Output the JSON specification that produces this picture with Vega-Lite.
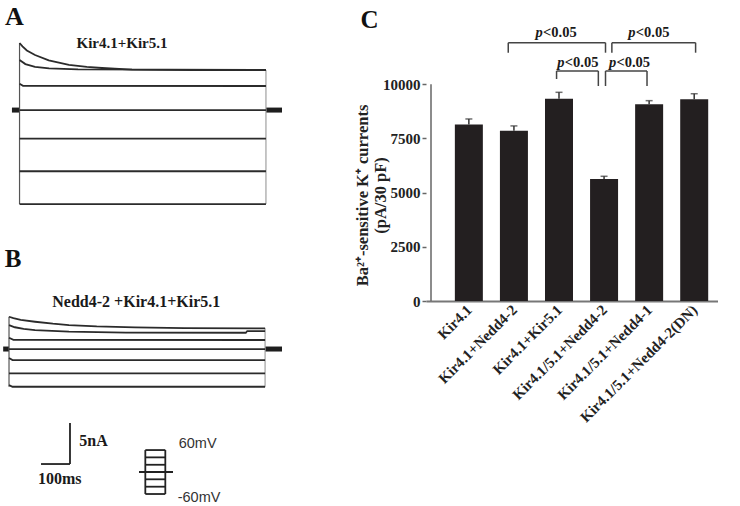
{
  "$schema": "https://vega.github.io/schema/vega-lite/v6.json",
  "padding": 0,
  "background": "white",
  "bounds": "flush",
  "spacing": 424,
  "config": {"view": {"stroke": null}, "font": "Liberation Serif"},
  "datasets": {
    "tracesA": [
      {"tr": 1, "t": 0, "i": 8.17}, {"tr": 1, "t": 10, "i": 7.75}, {"tr": 1, "t": 25, "i": 7.25}, {"tr": 1, "t": 53, "i": 6.7}, {"tr": 1, "t": 100, "i": 6.05}, {"tr": 1, "t": 169, "i": 5.49}, {"tr": 1, "t": 230, "i": 5.25}, {"tr": 1, "t": 282, "i": 5.12}, {"tr": 1, "t": 385, "i": 4.92}, {"tr": 1, "t": 600, "i": 4.88}, {"tr": 1, "t": 843, "i": 4.88},
      {"tr": 2, "t": 0, "i": 6.1}, {"tr": 2, "t": 20, "i": 5.6}, {"tr": 2, "t": 53, "i": 5.27}, {"tr": 2, "t": 101, "i": 5.07}, {"tr": 2, "t": 200, "i": 4.95}, {"tr": 2, "t": 843, "i": 4.88},
      {"tr": 3, "t": 0, "i": 3.2}, {"tr": 3, "t": 12, "i": 2.95}, {"tr": 3, "t": 843, "i": 2.93},
      {"tr": 4, "t": 0, "i": 0}, {"tr": 4, "t": 843, "i": 0},
      {"tr": 5, "t": 0, "i": -3.48}, {"tr": 5, "t": 843, "i": -3.48},
      {"tr": 6, "t": 0, "i": -7.45}, {"tr": 6, "t": 843, "i": -7.45},
      {"tr": 7, "t": 0, "i": -11.44}, {"tr": 7, "t": 843, "i": -11.44}
    ],
    "holdA": [{"t": -26, "t2": 0, "i": 0}, {"t": 843, "t2": 898, "i": 0}],
    "vertA": [{"t": 0, "i": -11.44, "i2": 8.17, "kind": "on"}, {"t": 843, "i": -11.44, "i2": 4.88, "kind": "off"}],
    "textA": [
      {"t": -49.7, "i": 10.36, "txt": "A", "style": "letter"},
      {"t": 350.5, "i": 8.17, "txt": "Kir4.1+Kir5.1", "style": "title"}
    ],
    "tracesB": [
      {"tr": 1, "t": 0, "i": 3.93}, {"tr": 1, "t": 15, "i": 3.75}, {"tr": 1, "t": 40, "i": 3.55}, {"tr": 1, "t": 89, "i": 3.32}, {"tr": 1, "t": 150, "i": 3.08}, {"tr": 1, "t": 205, "i": 2.92}, {"tr": 1, "t": 300, "i": 2.75}, {"tr": 1, "t": 431, "i": 2.64}, {"tr": 1, "t": 600, "i": 2.55}, {"tr": 1, "t": 876, "i": 2.52},
      {"tr": 2, "t": 0, "i": 2.92}, {"tr": 2, "t": 20, "i": 2.65}, {"tr": 2, "t": 50, "i": 2.45}, {"tr": 2, "t": 89, "i": 2.31}, {"tr": 2, "t": 205, "i": 2.11}, {"tr": 2, "t": 400, "i": 2.0}, {"tr": 2, "t": 810, "i": 1.98}, {"tr": 2, "t": 815, "i": 2.19}, {"tr": 2, "t": 876, "i": 2.19},
      {"tr": 3, "t": 0, "i": 1.38}, {"tr": 3, "t": 15, "i": 1.12}, {"tr": 3, "t": 876, "i": 1.1},
      {"tr": 4, "t": 0, "i": 0}, {"tr": 4, "t": 876, "i": 0},
      {"tr": 5, "t": 0, "i": -1.1}, {"tr": 5, "t": 12, "i": -1.34}, {"tr": 5, "t": 876, "i": -1.34},
      {"tr": 6, "t": 0, "i": -2.96}, {"tr": 6, "t": 876, "i": -2.96},
      {"tr": 7, "t": 0, "i": -4.4}, {"tr": 7, "t": 12, "i": -4.59}, {"tr": 7, "t": 876, "i": -4.59}
    ],
    "holdB": [{"t": -20, "t2": 0, "i": 0}, {"t": 876, "t2": 934, "i": 0}],
    "vertB": [{"t": 0, "i": -4.59, "i2": 3.93, "kind": "on"}, {"t": 876, "i": -4.59, "i2": 2.52, "kind": "off"}],
    "rulesB": [
      {"t": 109.5, "t2": 208.6, "i": -14.0, "i2": -14.0},
      {"t": 208.6, "t2": 208.6, "i": -9.01, "i2": -14.0},
      {"t": 466.3, "t2": 534.7, "i": -12.3, "i2": -12.3},
      {"t": 466.3, "t2": 534.7, "i": -13.19, "i2": -13.19},
      {"t": 466.3, "t2": 534.7, "i": -14.09, "i2": -14.09},
      {"t": 444.7, "t2": 561, "i": -14.97, "i2": -14.97},
      {"t": 466.3, "t2": 534.7, "i": -15.86, "i2": -15.86},
      {"t": 466.3, "t2": 534.7, "i": -16.76, "i2": -16.76},
      {"t": 466.3, "t2": 534.7, "i": -17.65, "i2": -17.65},
      {"t": 466.3, "t2": 466.3, "i": -12.3, "i2": -17.65},
      {"t": 534.7, "t2": 534.7, "i": -12.3, "i2": -17.65}
    ],
    "textB": [
      {"t": -14.8, "i": 10.02, "txt": "B", "style": "letter"},
      {"t": 435.4, "i": 5.69, "txt": "Nedd4-2 +Kir4.1+Kir5.1", "style": "title"},
      {"t": 240.4, "i": -11.16, "txt": "5nA", "style": "scale"},
      {"t": 99.1, "i": -15.86, "txt": "100ms", "style": "scale"},
      {"t": 580.5, "i": -11.57, "txt": "60mV", "style": "mv"},
      {"t": 577, "i": -18.18, "txt": "-60mV", "style": "mv"}
    ],
    "bars": [
      {"x": 1, "y": 8150, "err": 8400},
      {"x": 2, "y": 7860, "err": 8080},
      {"x": 3, "y": 9335, "err": 9630},
      {"x": 4, "y": 5630, "err": 5755},
      {"x": 5, "y": 9075, "err": 9245},
      {"x": 6, "y": 9310, "err": 9565}
    ],
    "caps": [
      {"x": 1, "y": 8400}, {"x": 2, "y": 8080}, {"x": 3, "y": 9630},
      {"x": 4, "y": 5755}, {"x": 5, "y": 9245}, {"x": 6, "y": 9565}
    ],
    "brackets": [
      {"x": 1.874, "x2": 4.032, "y": 11920, "y2": 11920},
      {"x": 1.874, "x2": 1.874, "y": 11920, "y2": 11458},
      {"x": 4.032, "x2": 4.032, "y": 11920, "y2": 11458},
      {"x": 4.173, "x2": 6.031, "y": 11920, "y2": 11920},
      {"x": 4.173, "x2": 4.173, "y": 11920, "y2": 11458},
      {"x": 6.031, "x2": 6.031, "y": 11920, "y2": 11458},
      {"x": 2.946, "x2": 3.873, "y": 10614, "y2": 10614},
      {"x": 2.946, "x2": 2.946, "y": 10614, "y2": 10245},
      {"x": 3.873, "x2": 3.873, "y": 10614, "y2": 9922},
      {"x": 4.032, "x2": 4.953, "y": 10614, "y2": 10614},
      {"x": 4.032, "x2": 4.032, "y": 10614, "y2": 9922},
      {"x": 4.953, "x2": 4.953, "y": 10614, "y2": 9922}
    ],
    "ptext": [
      {"x": 2.481, "y": 12367, "p": "p", "rest": "<0.05"},
      {"x": 4.538, "y": 12367, "p": "p", "rest": "<0.05"},
      {"x": 2.961, "y": 10997, "p": "p", "rest": "<0.05"},
      {"x": 4.109, "y": 10997, "p": "p", "rest": "<0.05"}
    ],
    "ctext": [{"x": -1.404, "y": 12598, "txt": "C"}],
    "yline": [{"x": 0.16, "y": 0, "y2": 10000}]
  },
  "hconcat": [
    {
      "bounds": "flush",
      "spacing": 0,
      "resolve": {"scale": {"x": "independent", "y": "independent"}},
      "vconcat": [
        {
          "width": 285,
          "height": 230,
          "encoding": {
            "x": {"field": "t", "type": "quantitative", "scale": {"domain": [-60, 915], "nice": false, "zero": false}, "axis": null},
            "y": {"field": "i", "type": "quantitative", "scale": {"domain": [-14.6, 13.4], "nice": false, "zero": false}, "axis": null}
          },
          "layer": [
            {"data": {"name": "holdA"}, "mark": {"type": "rule", "color": "#1e1e1e", "strokeWidth": 5}, "encoding": {"x2": {"field": "t2"}}},
            {"data": {"name": "vertA"}, "mark": {"type": "rule", "strokeWidth": 1.2}, "encoding": {"y2": {"field": "i2"}, "color": {"field": "kind", "type": "nominal", "scale": {"domain": ["on", "off"], "range": ["#555555", "#a0a0a0"]}, "legend": null}}},
            {"data": {"name": "tracesA"}, "mark": {"type": "line", "color": "#2b2b2b", "strokeWidth": 1.8}, "encoding": {"detail": {"field": "tr", "type": "nominal"}}},
            {"data": {"name": "textA"}, "transform": [{"filter": "datum.style === 'letter'"}], "mark": {"type": "text", "font": "Liberation Serif", "fontWeight": "bold", "fontSize": 26, "align": "left", "baseline": "alphabetic", "color": "#111111"}, "encoding": {"text": {"field": "txt"}}},
            {"data": {"name": "textA"}, "transform": [{"filter": "datum.style === 'title'"}], "mark": {"type": "text", "font": "Liberation Serif", "fontWeight": "bold", "fontSize": 15, "align": "center", "baseline": "middle", "color": "#1a1a1a"}, "encoding": {"text": {"field": "txt"}}}
          ]
        },
        {
          "width": 285,
          "height": 276,
          "encoding": {
            "x": {"field": "t", "type": "quantitative", "scale": {"domain": [-24, 951], "nice": false, "zero": false}, "axis": null},
            "y": {"field": "i", "type": "quantitative", "scale": {"domain": [-19.11, 14.49], "nice": false, "zero": false}, "axis": null}
          },
          "layer": [
            {"data": {"name": "holdB"}, "mark": {"type": "rule", "color": "#1e1e1e", "strokeWidth": 5}, "encoding": {"x2": {"field": "t2"}}},
            {"data": {"name": "vertB"}, "mark": {"type": "rule", "strokeWidth": 1.2}, "encoding": {"y2": {"field": "i2"}, "color": {"field": "kind", "type": "nominal", "scale": {"domain": ["on", "off"], "range": ["#555555", "#a0a0a0"]}, "legend": null}}},
            {"data": {"name": "tracesB"}, "mark": {"type": "line", "color": "#2b2b2b", "strokeWidth": 1.8}, "encoding": {"detail": {"field": "tr", "type": "nominal"}}},
            {"data": {"name": "rulesB"}, "mark": {"type": "rule", "color": "#222222", "strokeWidth": 1.8}, "encoding": {"x2": {"field": "t2"}, "y2": {"field": "i2"}}},
            {"data": {"name": "textB"}, "transform": [{"filter": "datum.style === 'letter'"}], "mark": {"type": "text", "font": "Liberation Serif", "fontWeight": "bold", "fontSize": 25, "align": "left", "baseline": "alphabetic", "color": "#111111"}, "encoding": {"text": {"field": "txt"}}},
            {"data": {"name": "textB"}, "transform": [{"filter": "datum.style === 'title'"}], "mark": {"type": "text", "font": "Liberation Serif", "fontWeight": "bold", "fontSize": 16, "align": "center", "baseline": "middle", "color": "#1a1a1a"}, "encoding": {"text": {"field": "txt"}}},
            {"data": {"name": "textB"}, "transform": [{"filter": "datum.style === 'scale'"}], "mark": {"type": "text", "font": "Liberation Serif", "fontWeight": "bold", "fontSize": 16, "align": "left", "baseline": "middle", "color": "#1a1a1a"}, "encoding": {"text": {"field": "txt"}}},
            {"data": {"name": "textB"}, "transform": [{"filter": "datum.style === 'mv'"}], "mark": {"type": "text", "font": "Liberation Sans", "fontSize": 14.5, "align": "left", "baseline": "middle", "color": "#333333"}, "encoding": {"text": {"field": "txt"}}}
          ]
        }
      ]
    },
    {
      "width": 292,
      "height": 301,
      "encoding": {
        "x": {
          "field": "x", "type": "quantitative",
          "scale": {"domain": [0.16, 6.417], "nice": false, "zero": false},
          "axis": {
            "values": [1, 2, 3, 4, 5, 6],
            "labelExpr": "['', 'Kir4.1', 'Kir4.1+Nedd4-2', 'Kir4.1+Kir5.1', 'Kir4.1/5.1+Nedd4-2', 'Kir4.1/5.1+Nedd4-1', 'Kir4.1/5.1+Nedd4-2(DN)'][datum.value]",
            "labelAngle": -45, "labelAlign": "right", "labelBaseline": "middle",
            "labelFont": "Liberation Serif", "labelFontWeight": "bold", "labelFontSize": 15, "labelColor": "#222222",
            "labelPadding": 6, "ticks": false, "domainColor": "#777777", "domainWidth": 2, "grid": false, "title": null,
            "labelOverlap": false, "labelFlush": false, "labelBound": false
          }
        },
        "y": {
          "field": "y", "type": "quantitative",
          "scale": {"domain": [0, 13890], "nice": false, "zero": true},
          "axis": {
            "values": [0, 2500, 5000, 7500, 10000], "format": "d",
            "domain": false, "grid": false, "ticks": true, "tickSize": 4, "tickColor": "#666666", "tickWidth": 1.5,
            "labelFont": "Liberation Serif", "labelFontWeight": "bold", "labelFontSize": 15, "labelColor": "#222222", "labelPadding": 2, "labelFlush": false,
            "title": ["Ba²⁺-sensitive K⁺ currents", "(pA/30 pF)"],
            "titleFont": "Liberation Serif", "titleFontWeight": "bold", "titleFontSize": 16.5, "titleColor": "#222222",
            "titleX": -64, "titleY": 195, "titleAlign": "center", "titleBaseline": "middle", "titleLineHeight": 18, "titleAngle": -90
          }
        }
      },
      "layer": [
        {"data": {"name": "bars"}, "mark": {"type": "bar", "size": 28, "color": "#231f20", "orient": "vertical"}},
        {"data": {"name": "bars"}, "mark": {"type": "rule", "color": "#333333", "strokeWidth": 1.5}, "encoding": {"y2": {"field": "err"}}},
        {"data": {"name": "caps"}, "mark": {"type": "tick", "orient": "horizontal", "size": 7, "thickness": 1.5, "color": "#333333"}},
        {"data": {"name": "yline"}, "mark": {"type": "rule", "color": "#666666", "strokeWidth": 1.5}, "encoding": {"y2": {"field": "y2"}}},
        {"data": {"name": "brackets"}, "mark": {"type": "rule", "color": "#444444", "strokeWidth": 1.5}, "encoding": {"x2": {"field": "x2"}, "y2": {"field": "y2"}}},
        {"data": {"name": "ptext"}, "mark": {"type": "text", "font": "Liberation Serif", "fontWeight": "bold", "fontStyle": "italic", "fontSize": 14.5, "align": "left", "baseline": "middle", "color": "#1a1a1a"}, "encoding": {"text": {"field": "p"}}},
        {"data": {"name": "ptext"}, "mark": {"type": "text", "font": "Liberation Serif", "fontWeight": "bold", "fontSize": 14.5, "align": "left", "baseline": "middle", "dx": 7.5, "color": "#1a1a1a"}, "encoding": {"text": {"field": "rest"}}},
        {"data": {"name": "ctext"}, "mark": {"type": "text", "font": "Liberation Serif", "fontWeight": "bold", "fontSize": 25, "align": "left", "baseline": "alphabetic", "color": "#111111"}, "encoding": {"text": {"field": "txt"}}}
      ]
    }
  ]
}
